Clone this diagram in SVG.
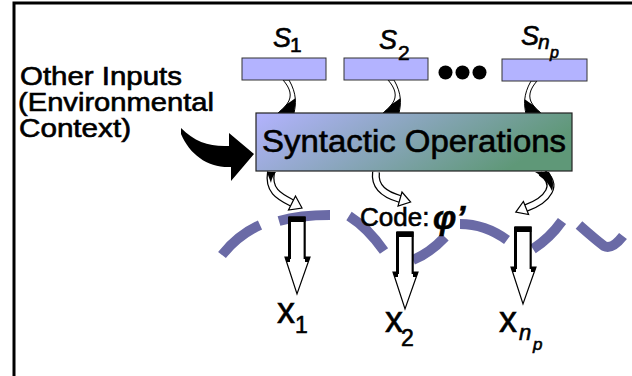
<svg xmlns="http://www.w3.org/2000/svg" xmlns:xlink="http://www.w3.org/1999/xlink" width="632" height="376" viewBox="0 0 632 376">
<style>
text{font-family:"Liberation Sans",Arial,sans-serif;fill:#000;stroke:#000;stroke-width:0.6}
.it{font-style:italic}
.sbox{fill:#b3b3ff;stroke:#333;stroke-width:1}
.wave{fill:none;stroke:#6a6aa6;stroke-width:10}
.band{fill:none;stroke:#000;stroke-width:8}
.bandin{fill:none;stroke:#fff;stroke-width:5.5}
.head{fill:#fff;stroke:#000;stroke-width:1.2;stroke-linejoin:miter}
.bar{fill:#fff;stroke:#000;stroke-width:1.2}
</style>
<defs>
<linearGradient id="mg" x1="0" y1="0" x2="1" y2="0.3">
<stop offset="0" stop-color="#b3b3ff"/>
<stop offset="1" stop-color="#5f9878"/>
</linearGradient>
<g id="ribbon">
<path d="M0 0 C7 8 10 16 4 24 C1 28 -3 31 -5 33 L11 33 C13 24 14 14 6 0 Z" fill="#fff" stroke="#000" stroke-width="1"/>
<path d="M4 24 C1 28 -3 31 -5 33 L11 33 C12 28 12.5 23 12.5 18 C10 20 7 22 4 24 Z" fill="#000"/>
</g>
<g id="bar">
<polygon class="bar" points="-8,0 8,0 8,40 13,40 0,77 -12,40 -8,40"/>
<rect x="-8.5" y="-0.5" width="17" height="5.5" fill="#000"/>
<line x1="-7.5" y1="0" x2="-7.5" y2="42" stroke="#000" stroke-width="3"/>
<line x1="7.5" y1="0" x2="7.5" y2="42" stroke="#000" stroke-width="1.8"/>
<polygon points="-12,40 -7,40 -7,45 -10.5,45" fill="#000"/>
<polygon points="13,40 8,40 8,45 11.5,45" fill="#000"/>
</g>
</defs>
<rect width="632" height="376" fill="#fff"/>
<path id="frame" d="M14 376 L14 3 L632 3" fill="none" stroke="#000" stroke-width="3"/>

<g id="other-inputs">
<text x="20" y="85" font-size="25" textLength="162" lengthAdjust="spacingAndGlyphs">Other Inputs</text>
<text x="18" y="111" font-size="25" textLength="196" lengthAdjust="spacingAndGlyphs">(Environmental</text>
<text x="19" y="137" font-size="25" textLength="112" lengthAdjust="spacingAndGlyphs">Context)</text>
</g>

<g id="wave">
<path class="wave" d="M222 255 Q238 235 260 225"/>
<path class="wave" d="M279 221 Q300 215 330 215"/>
<path class="wave" d="M349 216 Q368 228 384 251"/>
<path class="wave" d="M413 260 Q430 253 445 237"/>
<path class="wave" d="M460 224 Q485 224 507 240"/>
<path class="wave" d="M533 249 Q550 238 562 221"/>
<path class="wave" d="M579 225 Q596 240 604 246 Q612 250 623 236"/>
</g>

<g id="connectors">
<use xlink:href="#ribbon" transform="translate(283,80)"/>
<use xlink:href="#ribbon" transform="translate(388,80)"/>
<use xlink:href="#ribbon" transform="translate(537,81) scale(-1,1)"/>
<path d="M181 128 C195 142 210 147 229 146 L229 133 L254 154 L231 181 L231 167 C208 168 190 155 181 134 Z" fill="#000"/>
<path class="band" d="M271 172 C268 190 278 196 292 203"/>
<path class="bandin" d="M271 172 C268 190 278 196 292 203"/>
<polygon class="head" points="295.5,196 288.5,210 302,208"/>
<path d="M267 172 L276 172 C273 176 272 178 271 183 C269 178 268 175 267 172 Z" fill="#000"/>
<path class="band" d="M376 172 C374 188 386 195 400 199"/>
<path class="bandin" d="M376 172 C374 188 386 195 400 199"/>
<polygon class="head" points="402,192 398,206 410.6,202"/>
<path class="band" d="M541 172 C560 184 548 200 526 208"/>
<path class="bandin" d="M541 172 C560 184 548 200 526 208"/>
<polygon class="head" points="523.4,201.5 528.6,214.5 515.8,212.1"/>
<path d="M535 172 L549 172 C553 178 554 184 552 191 C548 182 542 176 535 172 Z" fill="#000"/>
</g>

<g id="s1">
<rect class="sbox" x="242" y="58" width="84" height="22"/>
<text x="273" y="47" font-size="27" class="it">S</text>
<text x="290" y="52" font-size="21">1</text>
</g>
<g id="s2">
<rect class="sbox" x="344" y="58" width="84" height="22"/>
<text x="379" y="49" font-size="27" class="it">S</text>
<text x="398" y="60" font-size="21">2</text>
</g>
<g id="dots">
<circle cx="445.5" cy="72.5" r="7"/>
<circle cx="462.5" cy="72.5" r="7"/>
<circle cx="479.5" cy="72.5" r="7"/>
</g>
<g id="snp">
<rect class="sbox" x="502" y="59" width="85" height="22"/>
<text x="521" y="45" font-size="27" class="it">S</text>
<text x="538" y="49" font-size="21" class="it">n</text>
<text x="550" y="58" font-size="16" class="it">p</text>
</g>

<g id="main">
<rect x="256" y="113" width="316" height="58" fill="url(#mg)" stroke="#222" stroke-width="1.2"/>
<text x="262" y="152" font-size="32" textLength="304" lengthAdjust="spacingAndGlyphs">Syntactic Operations</text>
</g>

<g id="code">
<text x="360" y="226" font-size="26">Code:</text>
<text x="433" y="229" font-size="33" font-weight="bold" class="it">φ’</text>
</g>

<g id="bar1"><use xlink:href="#bar" transform="translate(297,217)"/></g>
<g id="bar2"><use xlink:href="#bar" transform="translate(405,232)"/></g>
<g id="bar3"><use xlink:href="#bar" transform="translate(523,227)"/></g>

<g id="x1">
<text x="277" y="323" font-size="36">x</text>
<text x="295" y="333" font-size="23">1</text>
</g>
<g id="x2">
<text x="385" y="332" font-size="36">x</text>
<text x="401" y="346" font-size="23">2</text>
</g>
<g id="xnp">
<text x="499" y="332" font-size="36">x</text>
<text x="519" y="340" font-size="22" class="it">n</text>
<text x="533" y="350" font-size="17" class="it">p</text>
</g>
</svg>
